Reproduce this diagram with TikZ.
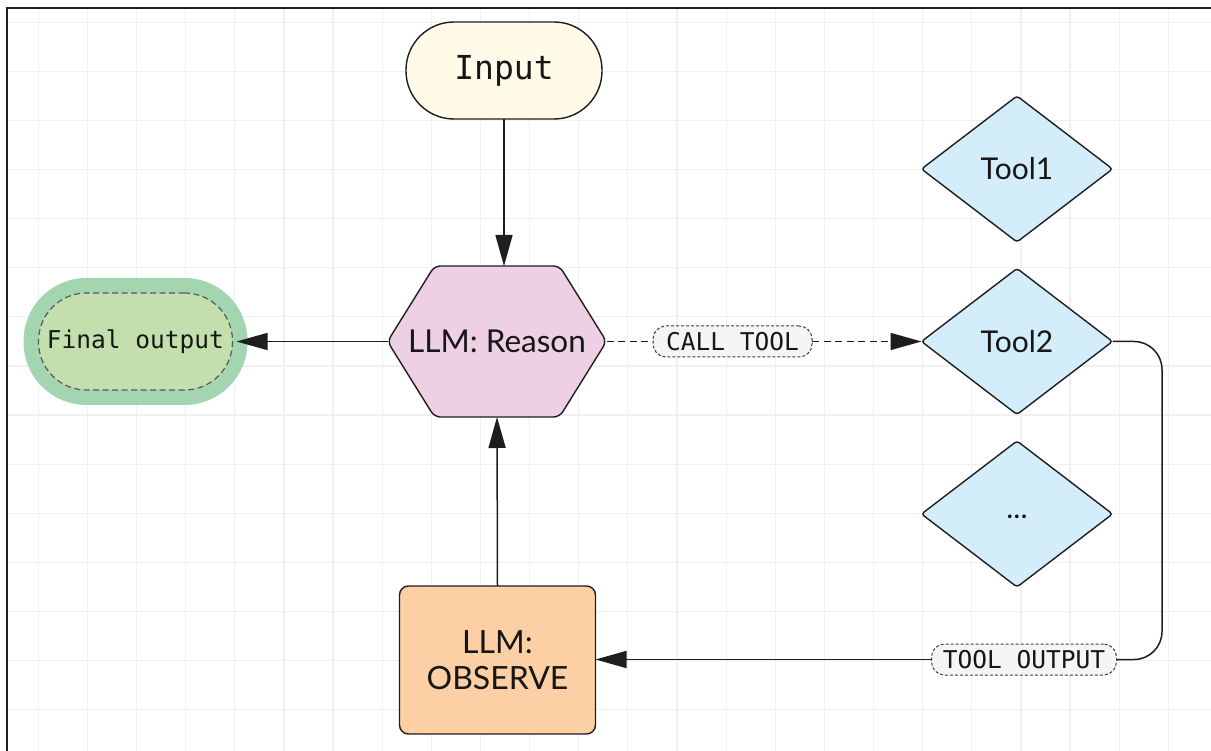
\documentclass[tikz,border=0pt]{standalone}
\usepackage{fontspec}
\newfontfamily\hand{Lato}
\newfontfamily\mono{DejaVu Sans Mono}
\usetikzlibrary{arrows.meta,shapes.geometric,calc}
\definecolor{lc}{HTML}{1E1E1E}
\definecolor{gridc}{HTML}{F0F0F0}
\definecolor{inpfill}{HTML}{FFFBE8}
\definecolor{hexfill}{HTML}{EED0E5}
\definecolor{fofill}{HTML}{C3DFAD}
\definecolor{fohalo}{HTML}{A2D5B0}
\definecolor{toolfill}{HTML}{D3EDFB}
\definecolor{obsfill}{HTML}{FCCFA4}
\definecolor{lblfill}{HTML}{F5F5F5}
\definecolor{txt}{HTML}{161616}
\pgfdeclarelayer{gridlayer}
\pgfdeclarelayer{bglayer}
\pgfsetlayers{gridlayer,bglayer,main}
\tikzset{
  conn/.style={draw=lc, line width=1.5pt},
  arr/.style={conn, -{Triangle[length=31pt,width=17pt]}},
  dconn/.style={conn, dash pattern=on 7pt off 4.5pt},
  darr/.style={dconn, -{Triangle[length=31pt,width=17pt]}},
  stadium/.style={draw=lc, line width=1.4pt, minimum width=196pt, minimum height=97pt, rounded corners=48pt, inner sep=0pt, outer sep=0pt, text=txt},
  toolbox/.style={diamond, draw=lc, line width=1.4pt, fill=toolfill, minimum width=191pt, minimum height=146pt, inner sep=0pt, outer sep=0pt, rounded corners=3pt, text=txt, font=\hand\fontsize{30}{36}\selectfont},
  lbl/.style={draw=lc!85, line width=1pt, dash pattern=on 3pt off 2pt, fill=lblfill, rounded corners=13pt, minimum width=#1, minimum height=31pt, inner sep=0pt, outer sep=0pt, text=txt, font=\mono\fontsize{24.5}{28}\selectfont},
}
\begin{document}
\begin{tikzpicture}[x=1pt,y=-1pt]
\useasboundingbox (0,0) rectangle (1211,751);
\begin{pgfonlayer}{gridlayer}
  \fill[white] (0,0) rectangle (1211,751);
  \begin{scope}
    \clip (7,8) rectangle (1211,751);
    \foreach \k in {0,...,23} \draw[gridc, line width=1.2pt] ({38.3+49.13*\k},8) -- ++(0,743);
    \foreach \k in {0,...,14} \draw[gridc, line width=1.2pt] (7,{22.3+49.1*\k}) -- ++(1204,0);
  \end{scope}
  \draw[lc, line width=2pt] (7,751) -- (7,8) -- (1211,8);
\end{pgfonlayer}

% nodes
\node[stadium, fill=inpfill, font=\mono\fontsize{33}{38}\selectfont] (inp) at (504,70.5) {Input};
\node[minimum width=219pt, minimum height=151pt, inner sep=0pt, outer sep=0pt, text=txt, font=\hand\fontsize{31.5}{36}\selectfont] (hex) at (497,341.5) {LLM: Reason};
\begin{pgfonlayer}{bglayer}
  \draw[lc, line width=1.4pt, fill=hexfill, rounded corners=6pt]
    (hex.west) -- ($(hex.north west)+(47,0)$) -- ($(hex.north east)+(-47,0)$)
    -- (hex.east) -- ($(hex.south east)+(-47,0)$) -- ($(hex.south west)+(47,0)$) -- cycle;
\end{pgfonlayer}
\node[stadium, draw=black!65, dash pattern=on 6pt off 3.5pt, line width=1.2pt, fill=fofill,
      minimum width=194pt, minimum height=97pt,
      preaction={draw=fohalo, line width=30pt, solid},
      font=\mono\fontsize{24.5}{28}\selectfont] (fo) at (135.5,341.5) {Final output};
\node[toolbox] (t1) at (1017,169) {Tool1};
\node[toolbox] (t2) at (1017,341.5) {Tool2};
\node[toolbox] (t3) at (1017,514) {\raisebox{-9pt}{...}};
\node[draw=lc, line width=1.4pt, fill=obsfill, rounded corners=9pt, minimum width=196pt, minimum height=148pt, inner sep=0pt, outer sep=0pt, align=center, text=txt, font=\hand\fontsize{32}{35.7}\selectfont] (obs) at (497.5,660) {LLM:\\OBSERVE};
\node[lbl=159pt] (ct) at (732.5,341.5) {CALL TOOL};
\node[lbl=185pt] (to) at (1024,659.5) {TOOL OUTPUT};
\coordinate (rx) at (1162,0);

% connectors
\draw[arr] (inp.south) -- (inp.south |- hex.north);
\draw[arr] (hex.west) -- ($(fo.east)+(4,0)$);
\draw[dconn] (hex.east) -- (ct.west);
\draw[darr] (ct.east) -- (t2.west);
\draw[conn, rounded corners=28pt] (t2.east) -- (t2.east -| rx) -- (to.east -| rx) -- (to.east);
\draw[arr] (to.west) -- (to.west -| obs.east);
\draw[arr] (obs.north) -- (hex.south);
\end{tikzpicture}
\end{document}
